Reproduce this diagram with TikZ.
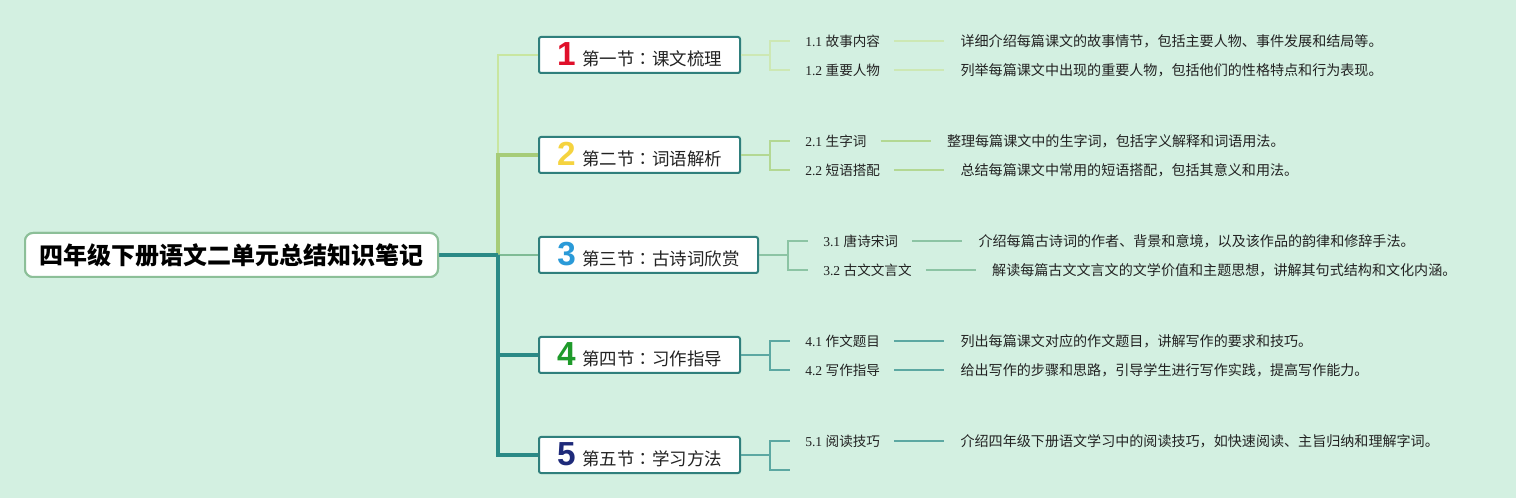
\documentclass[tikz,border=0pt]{standalone}
\usepackage{fontspec}
\setmainfont{Liberation Serif}
\newfontfamily\cjk{Noto Sans CJK SC}
\newfontfamily\cjkjp{Noto Sans CJK JP}
\newfontfamily\numfont{Liberation Sans}
\usetikzlibrary{calc}
\definecolor{bg}{HTML}{D3F0E1}
\definecolor{trunkteal}{HTML}{2A8A86}
\definecolor{olive}{HTML}{A6CC78}
\definecolor{lightg}{HTML}{C8E6A0}
\definecolor{midg}{HTML}{7FBB95}
\definecolor{boxborder}{HTML}{2F7F7C}
\definecolor{rootborder}{HTML}{8CBF98}
\definecolor{subA}{HTML}{CDE8B4}
\definecolor{subB}{HTML}{B3D893}
\definecolor{subC}{HTML}{8CC4A4}
\definecolor{subD}{HTML}{5CA8A2}
\definecolor{txt}{HTML}{222222}
\definecolor{numA}{HTML}{E0102A}
\definecolor{numB}{HTML}{F5D33F}
\definecolor{numC}{HTML}{2A9AD8}
\definecolor{numD}{HTML}{1E9A2A}
\definecolor{numE}{HTML}{1E2A7A}
\tikzset{
  rootbox/.style={draw=rootborder, line width=1.5pt, fill=white, rounded corners=6pt,
    minimum width=309.75pt, minimum height=33pt, inner sep=0pt,
    font=\cjk\bfseries\fontsize{18pt}{20pt}\selectfont, text=black},
  secbox/.style={draw=boxborder, line width=1.5pt, fill=white, rounded corners=1.5pt,
    minimum width=150.75pt, minimum height=27pt, inner sep=0pt, text=txt},
  sublabel/.style={anchor=west, inner sep=0pt, text=txt, font=\fontsize{10.2pt}{11pt}\selectfont},
  desc/.style={anchor=west, inner sep=0pt, text=txt, font=\cjk\fontsize{10.55pt}{12pt}\selectfont},
  thinline/.style={line width=1.5pt},
  thickline/.style={line width=3.6pt},
  subline/.style={line width=1.1pt},
  tolabel/.style={subline, shorten >=11.25pt},
  leader/.style={subline, shorten <=10.5pt, shorten >=12pt},
}
\newcommand{\secnum}[2]{{\numfont\bfseries\fontsize{25pt}{25pt}\selectfont\color{#1}#2}\hspace{5pt}}
\newcommand{\sectxt}[2]{{\cjk\fontsize{13.1pt}{15pt}\selectfont #1{\cjkjp ：}#2}}
\newcommand{\lab}[2]{#1 {\cjk #2}}
\begin{document}
\begin{tikzpicture}[x=0.75pt,y=-0.75pt]
\fill[bg] (0,0) rectangle (1516,498);
\useasboundingbox (0,0) rectangle (1516,498);

% root
\node[rootbox] (root) at (231.5,255) {四年级下册语文二单元总结知识笔记};

% sections
\node[secbox] (s1) at (639.5,55) {\secnum{numA}{1}\sectxt{第一节}{课文梳理}};
\node[secbox] (s2) at (639.5,155) {\secnum{numB}{2}\sectxt{第二节}{词语解析}};
\node[secbox, minimum width=164.25pt] (s3) at (648.5,255) {\secnum{numC}{3}\sectxt{第三节}{古诗词欣赏}};
\node[secbox] (s4) at (639.5,355) {\secnum{numD}{4}\sectxt{第四节}{习作指导}};
\node[secbox] (s5) at (639.5,455) {\secnum{numE}{5}\sectxt{第五节}{学习方法}};

% trunk
\coordinate (t) at (498,255);
\draw[lightg, thinline] (t) |- (s1.west);
\draw[olive, thickline] (t) |- (s2.west);
\draw[midg, thinline] (t) -- (s3.west);
\draw[trunkteal, thickline] (t) |- (s4.west);
\draw[trunkteal, thickline] (t) |- (s5.west);
\draw[trunkteal, thickline] (root.east) -- (t);
% redraw root box on top
\node[rootbox] at (root) {四年级下册语文二单元总结知识笔记};

% section 1
\node[sublabel] (l11) at (805,41) {\lab{1.1}{故事内容}};
\node[sublabel] (l12) at (805,70) {\lab{1.2}{重要人物}};
\node[desc] (d11) at ($(l11.east)+(80,0)$) {详细介绍每篇课文的故事情节，包括主要人物、事件发展和结局等。};
\node[desc] (d12) at ($(l12.east)+(80,0)$) {列举每篇课文中出现的重要人物，包括他们的性格特点和行为表现。};
\coordinate (b1) at (770,55);
\draw[subA, subline] (s1.east) -- (b1);
\draw[subA, tolabel] (b1) |- (l11.west);
\draw[subA, tolabel] (b1) |- (l12.west);
\draw[subA, leader] (l11.east) -- (d11.west);
\draw[subA, leader] (l12.east) -- (d12.west);

% section 2
\node[sublabel] (l21) at (805,141) {\lab{2.1}{生字词}};
\node[sublabel] (l22) at (805,170) {\lab{2.2}{短语搭配}};
\node[desc] (d21) at ($(l21.east)+(80,0)$) {整理每篇课文中的生字词，包括字义解释和词语用法。};
\node[desc] (d22) at ($(l22.east)+(80,0)$) {总结每篇课文中常用的短语搭配，包括其意义和用法。};
\coordinate (b2) at (770,155);
\draw[subB, subline] (s2.east) -- (b2);
\draw[subB, tolabel] (b2) |- (l21.west);
\draw[subB, tolabel] (b2) |- (l22.west);
\draw[subB, leader] (l21.east) -- (d21.west);
\draw[subB, leader] (l22.east) -- (d22.west);

% section 3
\node[sublabel] (l31) at (823,241) {\lab{3.1}{唐诗宋词}};
\node[sublabel] (l32) at (823,270) {\lab{3.2}{古文文言文}};
\node[desc] (d31) at ($(l31.east)+(80,0)$) {介绍每篇古诗词的作者、背景和意境，以及该作品的韵律和修辞手法。};
\node[desc] (d32) at ($(l32.east)+(80,0)$) {解读每篇古文文言文的文学价值和主题思想，讲解其句式结构和文化内涵。};
\coordinate (b3) at (788,255);
\draw[subC, subline] (s3.east) -- (b3);
\draw[subC, tolabel] (b3) |- (l31.west);
\draw[subC, tolabel] (b3) |- (l32.west);
\draw[subC, leader] (l31.east) -- (d31.west);
\draw[subC, leader] (l32.east) -- (d32.west);

% section 4
\node[sublabel] (l41) at (805,341) {\lab{4.1}{作文题目}};
\node[sublabel] (l42) at (805,370) {\lab{4.2}{写作指导}};
\node[desc] (d41) at ($(l41.east)+(80,0)$) {列出每篇课文对应的作文题目，讲解写作的要求和技巧。};
\node[desc] (d42) at ($(l42.east)+(80,0)$) {给出写作的步骤和思路，引导学生进行写作实践，提高写作能力。};
\coordinate (b4) at (770,355);
\draw[subD, subline] (s4.east) -- (b4);
\draw[subD, tolabel] (b4) |- (l41.west);
\draw[subD, tolabel] (b4) |- (l42.west);
\draw[subD, leader] (l41.east) -- (d41.west);
\draw[subD, leader] (l42.east) -- (d42.west);

% section 5
\node[sublabel] (l51) at (805,441) {\lab{5.1}{阅读技巧}};
\node[desc] (d51) at ($(l51.east)+(80,0)$) {介绍四年级下册语文学习中的阅读技巧，如快速阅读、主旨归纳和理解字词。};
\coordinate (b5) at (770,455);
\coordinate (e52) at (790,470);
\draw[subD, subline] (s5.east) -- (b5);
\draw[subD, tolabel] (b5) |- (l51.west);
\draw[subD, subline] (b5) |- (e52);
\draw[subD, leader] (l51.east) -- (d51.west);
\end{tikzpicture}
\end{document}
